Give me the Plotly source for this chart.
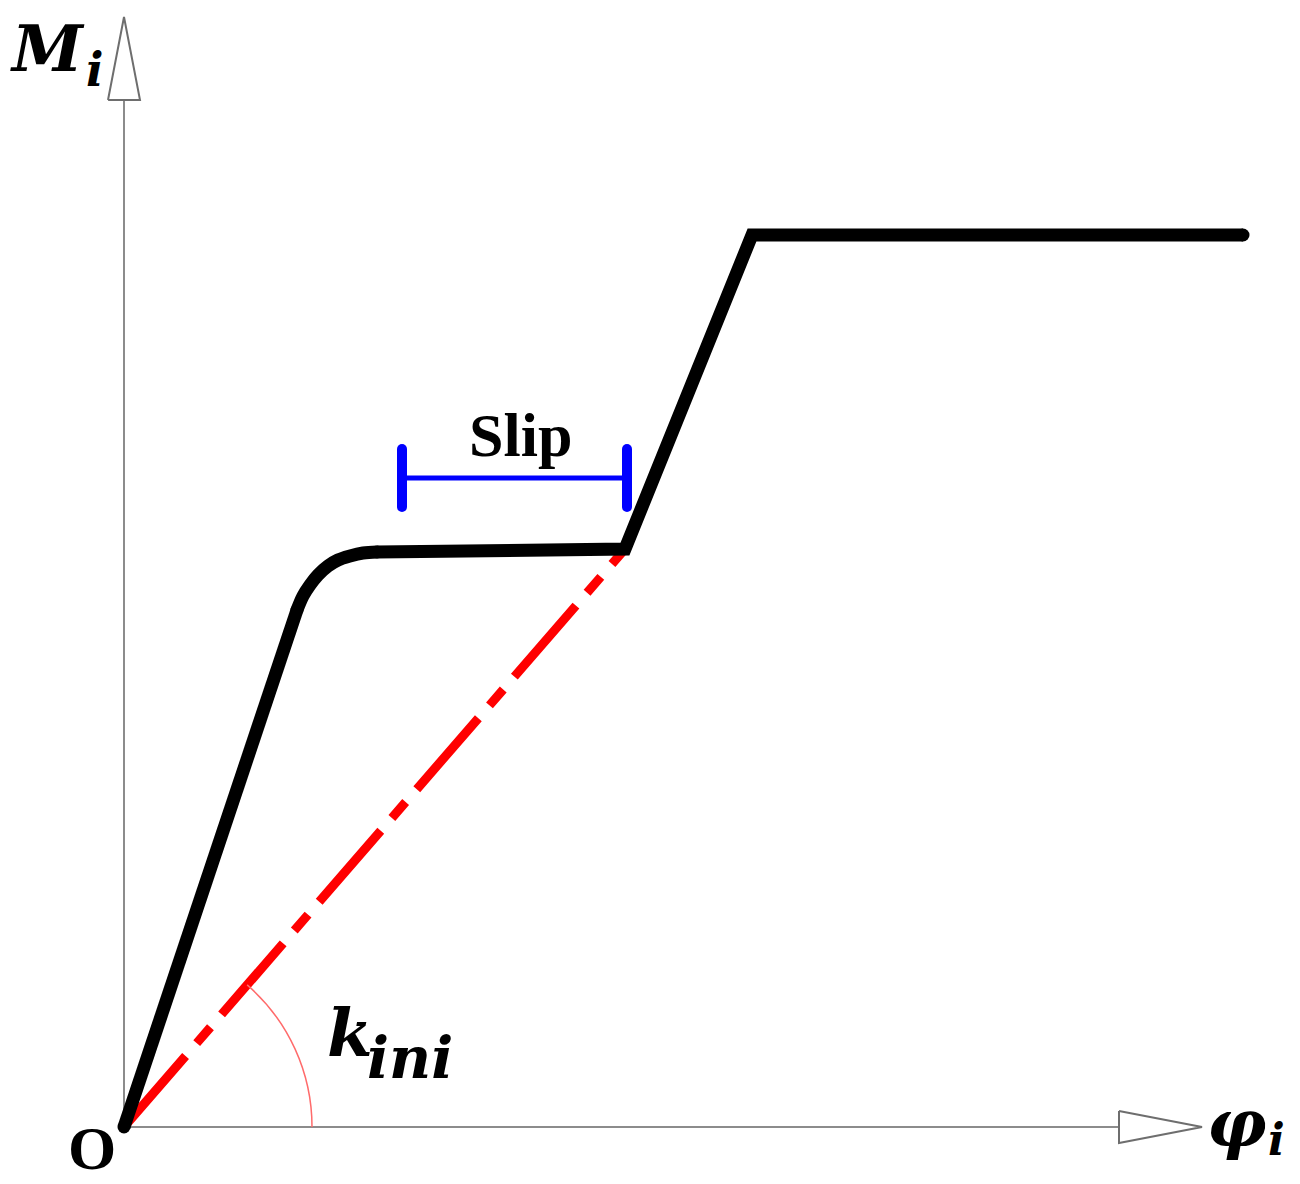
import math
import plotly.graph_objects as go

# ---------------- data (diagram units: 1 unit = 100 px, origin at O) ----------------
# moment-rotation curve (black)
phi_curve = [0.00, 1.73, 1.79, 1.86, 1.94, 2.04, 2.14, 2.26, 2.39, 2.53, 5.01, 6.28, 11.19]
m_curve   = [0.00, 5.17, 5.31, 5.42, 5.52, 5.61, 5.67, 5.71, 5.74, 5.75, 5.78, 8.92, 8.92]
knee_start, knee_end = 1, 9   # indices of the rounded knee portion

# initial stiffness line (red dash-dot)
phi_kini = [0.00, 5.01]
m_kini   = [0.00, 5.78]

# slip interval (blue)
slip_phi = [2.78, 5.03]
slip_m = 6.49
slip_cap_half = 0.29

# axes
x_axis_end = 9.95
y_axis_end = 10.27
arrow_len = 0.83
arrow_half = 0.16
arc_radius = 1.88

x_range = [-1.24, 11.76]
y_range = [-0.57, 11.27]

fig = go.Figure()

AX = "#8c8c8c"
# axis lines
fig.add_trace(go.Scatter(x=[0, x_axis_end], y=[0, 0], mode="lines",
                         line=dict(color=AX, width=2), hoverinfo="skip"))
fig.add_trace(go.Scatter(x=[0, 0], y=[0, y_axis_end], mode="lines",
                         line=dict(color=AX, width=2), hoverinfo="skip"))
# hollow arrow heads
fig.add_trace(go.Scatter(
    x=[x_axis_end, x_axis_end + arrow_len, x_axis_end, x_axis_end],
    y=[arrow_half, 0, -arrow_half, arrow_half],
    mode="lines", fill="toself", fillcolor="white",
    line=dict(color="#6e6e6e", width=2), hoverinfo="skip"))
fig.add_trace(go.Scatter(
    x=[-arrow_half, 0, arrow_half, -arrow_half],
    y=[y_axis_end, y_axis_end + arrow_len, y_axis_end, y_axis_end],
    mode="lines", fill="toself", fillcolor="white",
    line=dict(color="#6e6e6e", width=2), hoverinfo="skip"))

# angle arc for k_ini (cubic Bezier approximation of circular arc)
theta = math.atan2(m_kini[1], phi_kini[1])
kk = 4.0 / 3.0 * math.tan(theta / 4.0)
r = arc_radius
p0 = (r, 0.0)
p1 = (r, r * kk)
p2 = (r * (math.cos(theta) + kk * math.sin(theta)), r * (math.sin(theta) - kk * math.cos(theta)))
p3 = (r * math.cos(theta), r * math.sin(theta))
fig.add_shape(type="path",
              path=f"M {p0[0]},{p0[1]} C {p1[0]},{p1[1]} {p2[0]},{p2[1]} {p3[0]},{p3[1]}",
              line=dict(color="#ff6b6b", width=1.5), xref="x", yref="y")

# red dash-dot line
fig.add_trace(go.Scatter(x=phi_kini, y=m_kini, mode="lines",
                         line=dict(color="#ff0000", width=9, dash="94px,17px,21px,17px"),
                         hoverinfo="skip"))

# black curve: straight part, smooth knee, straight remainder
BL = dict(color="#000000", width=13)
fig.add_trace(go.Scatter(x=phi_curve[:knee_start + 1], y=m_curve[:knee_start + 1],
                         mode="lines", line=BL, hoverinfo="skip"))
fig.add_trace(go.Scatter(x=phi_curve[knee_start:knee_end + 1], y=m_curve[knee_start:knee_end + 1],
                         mode="lines", line=dict(BL, shape="spline", smoothing=1.0),
                         hoverinfo="skip"))
fig.add_trace(go.Scatter(x=phi_curve[knee_end:], y=m_curve[knee_end:],
                         mode="lines", line=BL, hoverinfo="skip"))
# rounded line ends and joints
ends = [0, knee_start, knee_end, len(phi_curve) - 1]
fig.add_trace(go.Scatter(x=[phi_curve[i] for i in ends], y=[m_curve[i] for i in ends],
                         mode="markers", marker=dict(color="#000000", size=13, line=dict(width=0)),
                         hoverinfo="skip"))
# slip marker
fig.add_trace(go.Scatter(x=slip_phi, y=[slip_m, slip_m], mode="lines",
                         line=dict(color="#0000ff", width=5), hoverinfo="skip"))
for xp in slip_phi:
    fig.add_trace(go.Scatter(x=[xp, xp], y=[slip_m - slip_cap_half, slip_m + slip_cap_half],
                             mode="lines+markers", line=dict(color="#0000ff", width=10),
                             marker=dict(color="#0000ff", size=10, line=dict(width=0)),
                             hoverinfo="skip"))

SERIF = "DejaVu Serif"
TIMES = "Liberation Serif"
ann = [
    dict(x=-0.77, y=10.79, text="<b><i>M</i></b>", size=64, fam=SERIF),
    dict(x=-0.30, y=10.57, text="<b><i>i</i></b>", size=46, fam=SERIF),
    dict(x=11.13, y=0.04, text="<b><i>φ</i></b>", size=66, fam=SERIF),
    dict(x=11.52, y=-0.12, text="<b><i>i</i></b>", size=44, fam=SERIF),
    dict(x=-0.32, y=-0.21, text="<b>O</b>", size=62, fam=TIMES),
    dict(x=3.96, y=6.92, text="<b>Slip</b>", size=62, fam=TIMES),
    dict(x=2.26, y=0.94, text="<b><i>k</i></b>", size=66, fam=SERIF),
    dict(x=2.86, y=0.69, text="<b><i>ini</i></b>", size=58, fam=SERIF),
]
for a in ann:
    fig.add_annotation(x=a["x"], y=a["y"], text=a["text"], showarrow=False,
                       xref="x", yref="y", xanchor="center", yanchor="middle",
                       font=dict(family=a["fam"], size=a["size"], color="black"))

fig.update_layout(
    width=1300, height=1184,
    margin=dict(l=0, r=0, t=0, b=0),
    paper_bgcolor="white", plot_bgcolor="white",
    showlegend=False,
    xaxis=dict(range=x_range, visible=False, showgrid=False, zeroline=False),
    yaxis=dict(range=y_range, visible=False, showgrid=False, zeroline=False),
)

fig.write_html("out.html", config={"displayModeBar": False},
               post_script="document.body.style.margin='0';document.body.style.overflow='hidden';")
